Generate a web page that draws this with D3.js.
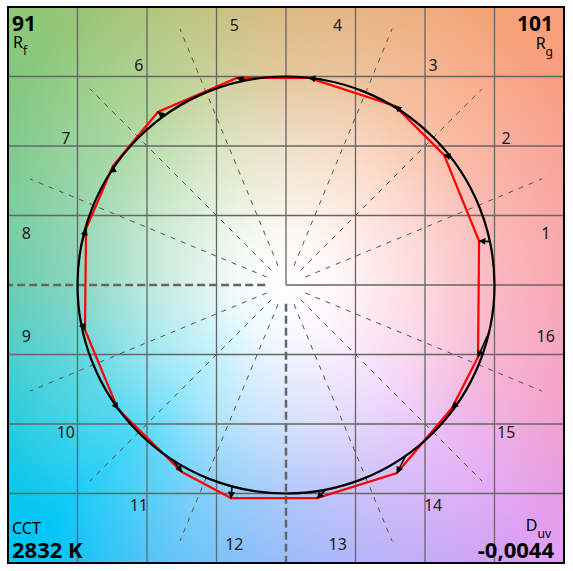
<!DOCTYPE html>
<html>
<head>
<meta charset="utf-8">
<script src="https://cdn.jsdelivr.net/npm/d3@7"></script>
<style>
  body { margin: 0; background: #fff; }
  #wrap { position: relative; width: 573px; height: 571px; }
  #bg { position: absolute; }
  svg { position: absolute; left: 0; top: 0; }
</style>
</head>
<body>
<div id="wrap"><div id="bg"></div></div>
<script>
var binLabels = ["1","2","3","4","5","6","7","8","9","10","11","12","13","14","15","16"];
// test (red) vertices, in units of the reference circle radius
var testX = [0.926, 0.758, 0.523, 0.110, -0.235, -0.614, -0.830, -0.959, -0.964, -0.806, -0.499, -0.264, 0.149, 0.532, 0.796, 0.921];
var testY = [0.211, 0.624, 0.859, 0.993, 0.993, 0.830, 0.571, 0.269, -0.216, -0.595, -0.897, -1.022, -1.022, -0.902, -0.590, -0.345];
// reference hue angle of each bin (deg), arrows start here on the circle
var refHue = [12, 38, 56, 80, 101, 126, 146, 169, 190, 213, 237, 255, 281, 305, 326, 347];

var Rf = "91", Rg = "101", CCT = "2832 K", Duv = "-0,0044";

var width = 573, height = 571;
var plotX = 8, plotY = 7, size = 556;

var x = d3.scaleLinear().domain([-4/3, 4/3]).range([plotX, plotX + size]);
var y = d3.scaleLinear().domain([-4/3, 4/3]).range([plotY + size, plotY]);
var r1 = x(1) - x(0);

// background colour wheel
d3.select("#bg")
    .style("left", plotX + "px").style("top", plotY + "px")
    .style("width", size + "px").style("height", size + "px")
    .style("background",
        "radial-gradient(circle at 50% 50%, rgba(255,255,255,1) 0px, rgba(255,255,255,0.93) 50px, " +
        "rgba(255,255,255,0.62) 140px, rgba(255,255,255,0.3) 215px, rgba(255,255,255,0) 340px), " +
        "conic-gradient(from 0deg at 50% 50%, #d6ae6e 0deg, #f0a674 30deg, #f8a07a 45deg, #f89a92 70deg, #f898a4 90deg, " +
        "#f298c8 115deg, #e0a0f4 135deg, #b4a8f8 160deg, #88b0f8 180deg, #50bef8 203deg, #00c6f6 225deg, " +
        "#20c8d4 248deg, #52c4a2 270deg, #70c68a 292deg, #8cc878 315deg, #b0c070 338deg, #d6ae6e 360deg)");

var svg = d3.select("#wrap").append("svg")
        .attr("width", width)
        .attr("height", height);

var defs = svg.append("defs");
defs.append("marker")
    .attr("id", "head")
    .attr("viewBox", "0 0 10 10")
    .attr("refX", 9).attr("refY", 5)
    .attr("markerWidth", 9).attr("markerHeight", 7)
    .attr("markerUnits", "userSpaceOnUse")
    .attr("orient", "auto")
    .append("path")
    .attr("d", "M0,0 L10,5 L0,10 z")
    .attr("fill", "#000");

var ticks = d3.range(-3, 4).map(function(d) { return d / 3; });

// grid
var grid = svg.append("g").attr("stroke", "#666").attr("stroke-width", 1.3);
ticks.forEach(function(t) {
    if (t === 0) return;
    grid.append("line").attr("x1", x(t)).attr("x2", x(t)).attr("y1", plotY).attr("y2", plotY + size);
    grid.append("line").attr("x1", plotX).attr("x2", plotX + size).attr("y1", y(t)).attr("y2", y(t));
});
// solid halves of the centre axes
grid.append("line").attr("x1", x(0)).attr("x2", x(0)).attr("y1", plotY).attr("y2", y(0));
grid.append("line").attr("x1", x(0)).attr("x2", plotX + size).attr("y1", y(0)).attr("y2", y(0));
// dashed halves
svg.append("line").attr("x1", x(0)).attr("x2", x(0)).attr("y1", y(-0.09)).attr("y2", plotY + size)
    .style("stroke", "#666").style("stroke-width", 2.5).style("stroke-dasharray", "8,4");
svg.append("line").attr("x1", x(-0.1)).attr("x2", plotX).attr("y1", y(0)).attr("y2", y(0))
    .style("stroke", "#666").style("stroke-width", 2.5).style("stroke-dasharray", "8,4");

// bin boundaries
var bounds = d3.range(16).map(function(i) { return i * 22.5; })
    .filter(function(a) { return a % 90 !== 0; });
svg.append("g").selectAll("line").data(bounds).enter().append("line")
    .attr("x1", function(a) { return x(0.1 * Math.cos(a * Math.PI / 180)); })
    .attr("y1", function(a) { return y(0.1 * Math.sin(a * Math.PI / 180)); })
    .attr("x2", function(a) { return x(1.33 * Math.cos(a * Math.PI / 180)); })
    .attr("y2", function(a) { return y(1.33 * Math.sin(a * Math.PI / 180)); })
    .style("stroke", "#555").style("stroke-width", 1).style("stroke-dasharray", "5,6");

// bin numbers
svg.append("g").selectAll("text").data(binLabels).enter().append("text")
    .attr("x", function(d, i) { return x(1.27 * Math.cos((i + 0.5) * 22.5 * Math.PI / 180)); })
    .attr("y", function(d, i) { return y(1.27 * Math.sin((i + 0.5) * 22.5 * Math.PI / 180)); })
    .attr("text-anchor", "middle")
    .attr("dy", "0.36em")
    .style("font-family", "'Noto Sans', 'DejaVu Sans', sans-serif")
    .style("font-size", "16px")
    .style("fill", "#1a1a1a")
    .text(function(d) { return d; });

// test polygon
var pts = testX.map(function(v, i) { return [v, testY[i]]; });
svg.append("path")
    .attr("d", d3.line().x(function(d) { return x(d[0]); }).y(function(d) { return y(d[1]); })
        .curve(d3.curveLinearClosed)(pts))
    .style("fill", "none").style("stroke", "#ff0000").style("stroke-width", 2.2);

// reference circle
svg.append("circle")
    .attr("cx", x(0)).attr("cy", y(0)).attr("r", r1)
    .style("fill", "none").style("stroke", "#000").style("stroke-width", 2.2);

// arrows ref -> test
svg.append("g").selectAll("line").data(pts).enter().append("line")
    .attr("x1", function(d, i) { return x(Math.cos(refHue[i] * Math.PI / 180)); })
    .attr("y1", function(d, i) { return y(Math.sin(refHue[i] * Math.PI / 180)); })
    .attr("x2", function(d) { return x(d[0]); })
    .attr("y2", function(d) { return y(d[1]); })
    .style("stroke", "#000").style("stroke-width", 1.6)
    .attr("marker-end", "url(#head)");

// frame
svg.append("rect")
    .attr("x", plotX).attr("y", plotY).attr("width", size).attr("height", size)
    .style("fill", "none").style("stroke", "#000").style("stroke-width", 2);

// corner values
var font = "'Noto Sans', 'DejaVu Sans', sans-serif";
function big(t, xx, yy, anchor, fs) {
    svg.append("text").attr("x", xx).attr("y", yy).attr("text-anchor", anchor)
        .style("font-family", font).style("font-weight", "bold").style("font-size", fs + "px")
        .text(t);
}
function sub(main, s, xx, yy, anchor) {
    var t = svg.append("text").attr("x", xx).attr("y", yy).attr("text-anchor", anchor)
        .style("font-family", font).style("font-size", "16px");
    t.append("tspan").text(main);
    t.append("tspan").attr("dy", 7).style("font-size", "12px").text(s);
}
big(Rf, 12, 31, "start", 21);
sub("R", "f", 13, 48, "start");
big(Rg, 553, 31, "end", 21);
sub("R", "g", 553, 49, "end");
svg.append("text").attr("x", 12).attr("y", 534)
    .style("font-family", font).style("font-size", "16px").text("CCT");
big(CCT, 12, 558, "start", 22);
sub("D", "uv", 551, 531, "end");
big(Duv, 554, 558, "end", 22);
</script>
</body>
</html>
